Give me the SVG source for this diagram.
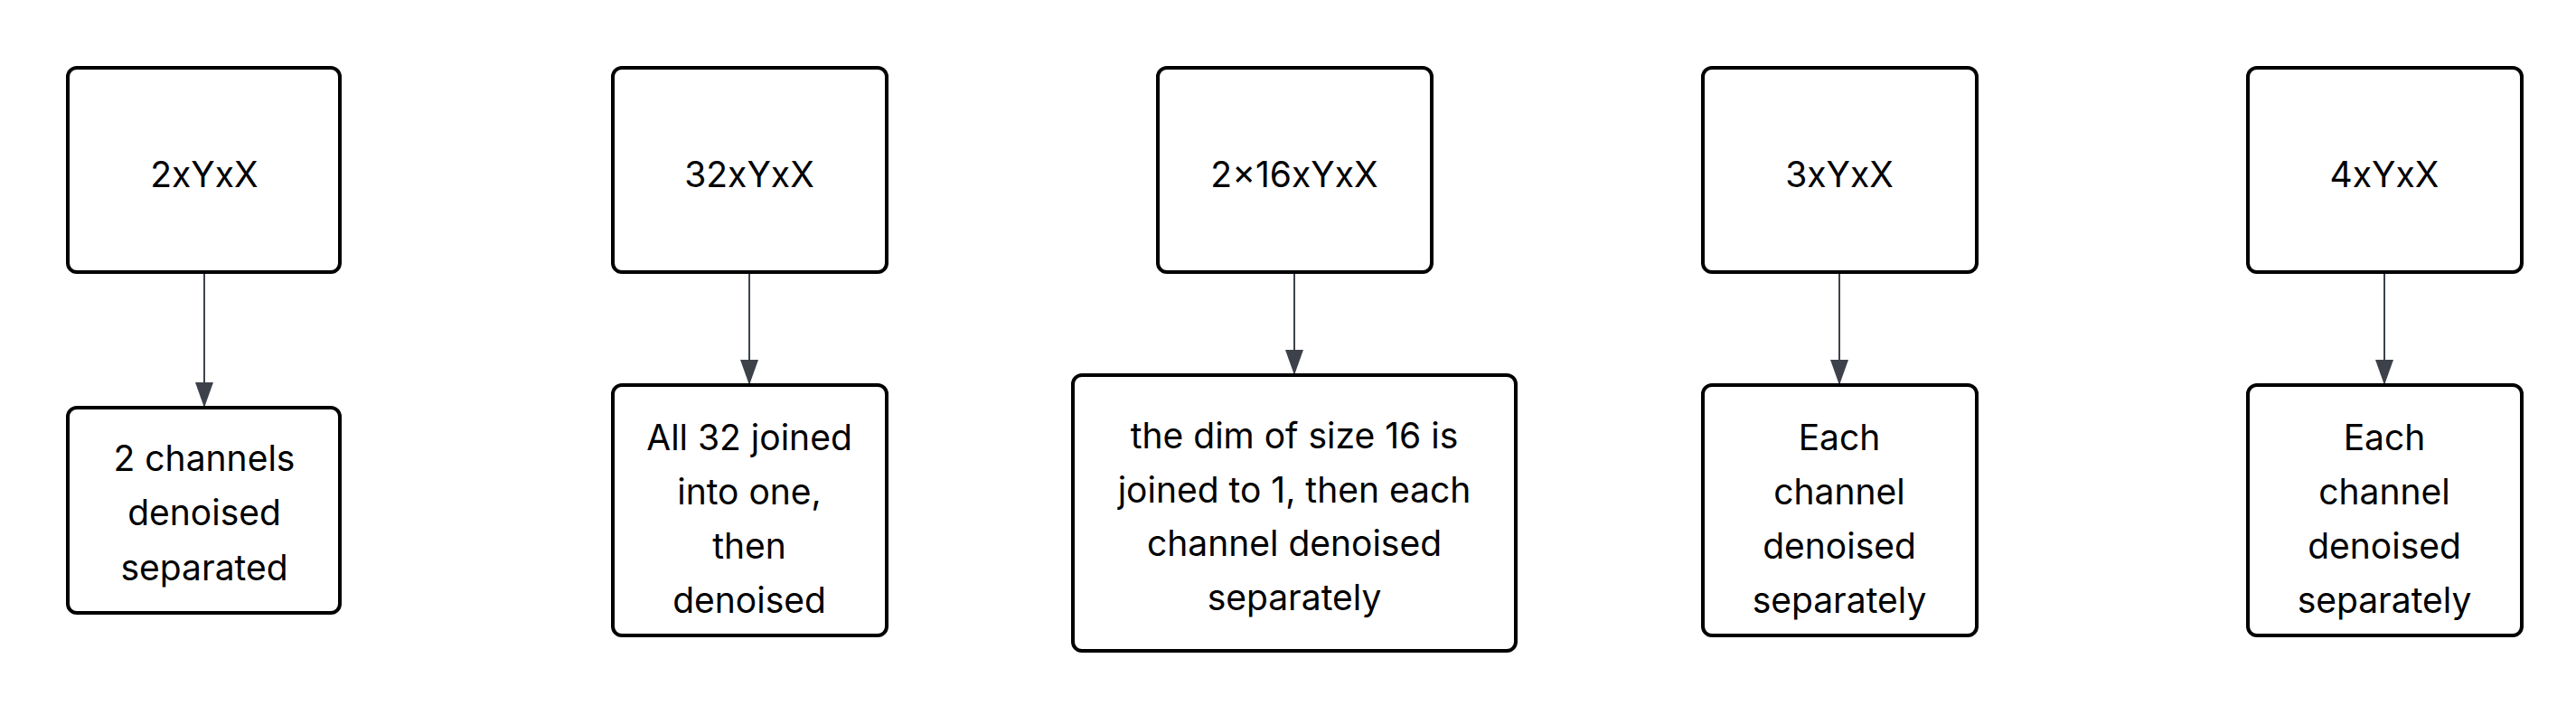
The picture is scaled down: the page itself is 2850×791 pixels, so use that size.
<svg xmlns="http://www.w3.org/2000/svg" width="2850" height="791" viewBox="0 0 2850 791">
<style>
.n rect{fill:#fff;stroke:#000;stroke-width:4}
text{font-family:Inter,"Liberation Sans",sans-serif;font-size:39px;fill:#000;text-anchor:middle;dominant-baseline:central}
.c line{stroke:#3d424a;stroke-width:2}
</style>
<defs><marker id="a" markerWidth="30" markerHeight="30" refX="28" refY="10" orient="auto" markerUnits="userSpaceOnUse"><path d="M0,0 L28,10 L0,20 Z" fill="#3d424a"/></marker></defs>
<rect width="2850" height="791" fill="#fff"/>
<g class="c">
<line x1="226" y1="301" x2="226" y2="451" marker-end="url(#a)"/>
<line x1="829" y1="301" x2="829" y2="426" marker-end="url(#a)"/>
<line x1="1432" y1="301" x2="1432" y2="415" marker-end="url(#a)"/>
<line x1="2035" y1="301" x2="2035" y2="426" marker-end="url(#a)"/>
<line x1="2638" y1="301" x2="2638" y2="426" marker-end="url(#a)"/>
</g>
<g id="t1" class="n"><rect x="75" y="75" width="301" height="226" rx="10"/><text x="226" y="192">2xYxX</text></g>
<g id="t2" class="n"><rect x="678" y="75" width="303" height="226" rx="10"/><text x="829" y="192">32xYxX</text></g>
<g id="t3" class="n"><rect x="1281" y="75" width="303" height="226" rx="10"/><text x="1432" y="192">2x16xYxX</text></g>
<g id="t4" class="n"><rect x="1884" y="75" width="303" height="226" rx="10"/><text x="2035" y="192">3xYxX</text></g>
<g id="t5" class="n"><rect x="2487" y="75" width="303" height="226" rx="10"/><text x="2638" y="192">4xYxX</text></g>
<g id="b1" class="n"><rect x="75" y="451" width="301" height="227" rx="10"/><text x="226" y="506">2 channels</text><text x="226" y="566">denoised</text><text x="226" y="627">separated</text></g>
<g id="b2" class="n"><rect x="678" y="426" width="303" height="277" rx="10"/><text x="829" y="483">All 32 joined</text><text x="829" y="543">into one,</text><text x="829" y="603">then</text><text x="829" y="663">denoised</text></g>
<g id="b3" class="n"><rect x="1187" y="415" width="490" height="305" rx="10"/><text x="1432" y="481">the dim of size 16 is</text><text x="1432" y="541">joined to 1, then each</text><text x="1432" y="600">channel denoised</text><text x="1432" y="660">separately</text></g>
<g id="b4" class="n"><rect x="1884" y="426" width="303" height="277" rx="10"/><text x="2035" y="483">Each</text><text x="2035" y="543">channel</text><text x="2035" y="603">denoised</text><text x="2035" y="663">separately</text></g>
<g id="b5" class="n"><rect x="2487" y="426" width="303" height="277" rx="10"/><text x="2638" y="483">Each</text><text x="2638" y="543">channel</text><text x="2638" y="603">denoised</text><text x="2638" y="663">separately</text></g>
</svg>
